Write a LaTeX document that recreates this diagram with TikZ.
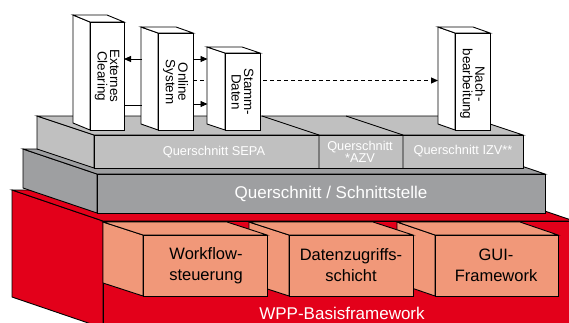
\documentclass[tikz,border=0pt]{standalone}
\usepackage{fontspec}
\setmainfont{Liberation Sans}
\usetikzlibrary{arrows.meta}
\definecolor{wred}{RGB}{227,0,26}
\definecolor{worange}{RGB}{241,152,121}
\definecolor{wgray}{RGB}{158,159,161}
\definecolor{wlgray}{RGB}{192,192,192}
% #1 x front-left, #2 y top, #3 width, #4 height, #5 dx depth, #6 dy depth, #7 fill
\newcommand\wprism[7]{%
  \filldraw[edge,fill=#7] (#1-#5,#2-#6) -- (#1,#2) -- (#1,#2+#4) -- (#1-#5,#2+#4-#6) -- cycle;
  \filldraw[edge,fill=#7] (#1-#5,#2-#6) -- (#1+#3-#5,#2-#6) -- (#1+#3,#2) -- (#1,#2) -- cycle;
  \filldraw[edge,fill=#7] (#1,#2) rectangle (#1+#3,#2+#4);
}
\tikzset{
  edge/.style={draw=black,line width=0.9pt,line join=miter},
  arr/.style={line width=0.9pt,-{Triangle[length=7pt,width=6pt]}},
  plainline/.style={line width=0.9pt},
  dasharr/.style={line width=0.9pt,dash pattern=on 4pt off 3pt,-{Triangle[length=7pt,width=6pt]}},
  vtxt/.style={rotate=-90,align=center,inner sep=0pt,font=\fontsize{13.4}{12.5}\selectfont},
  slabtxt/.style={text=white,align=center,inner sep=0pt,font=\fontsize{12.8}{12}\selectfont},
  bigtxt/.style={text=white,inner sep=0pt,font=\fontsize{17}{20}\selectfont},
  modtxt/.style={align=center,inner sep=0pt,font=\fontsize{16.5}{21}\selectfont},
}
\begin{document}
\begin{tikzpicture}[x=1pt,y=-1pt]
\useasboundingbox (0,0) rectangle (569,322);
\clip (0,0) rectangle (569,322);
% red base
\wprism{103}{221}{471}{107}{91}{31}{wred}
% lower gray slab
\wprism{97}{174}{448}{39}{74}{25}{wgray}
% upper slab
\wprism{94}{135}{429}{33}{57}{19}{wlgray}
\draw[edge] (262,116) -- (319,135) -- (319,168);
\draw[edge] (346,116) -- (403,135) -- (403,168);
% arrow coordinates
\coordinate (osL1) at (142,59);
\coordinate (osL2) at (142,105);
\coordinate (ecR1) at (124,59);
\coordinate (ecR2) at (124,105);
\coordinate (osR1) at (193,59);
\coordinate (osR2) at (193,104);
\coordinate (osR3) at (193,80.5);
\coordinate (sdL1) at (207.5,59);
\coordinate (sdL2) at (207.5,104);
\coordinate (nbL) at (438,80.5);
% top boxes
\wprism{90}{22}{34}{108}{17}{7}{white}
\wprism{158}{33}{35}{97}{17}{6}{white}
\draw[dasharr] (osR3) -- (nbL);
\wprism{225}{53}{35}{77}{18}{6}{white}
\wprism{455}{33}{35}{97}{17}{6}{white}
\draw[arr] (osL1) -- (ecR1);
\draw[plainline] (ecR2) -- (osL2);
\draw[arr] (osR1) -- (sdL1);
\draw[arr] (osR2) -- (sdL2);
% modules (right to left)
\wprism{435}{235}{123}{61}{38}{13}{worange}
\wprism{289}{235}{124}{61}{40}{13}{worange}
\wprism{143}{235}{124}{61}{40}{13}{worange}
% texts
\node[vtxt] (ec) at (107,76) {Externes\\Clearing};
\node[vtxt] (os) at (175.5,82) {Online\\System};
\node[vtxt] (sd) at (242.5,92) {Stamm-\\Daten};
\node[vtxt] (nb) at (472.5,84) {Nach-\\bearbeitung};
\node[slabtxt] (sepa) at (214,152) {Querschnitt SEPA};
\node[slabtxt] (azv) at (360,151.5) {Querschnitt\\*AZV};
\node[slabtxt] (izv) at (463,151) {Querschnitt IZV**};
\node[bigtxt] (qs) at (331,193.5) {Querschnitt / Schnittstelle};
\node[modtxt] (wf) at (206,265.5) {Workflow-\\steuerung};
\node[modtxt] (dz) at (351,265.5) {Datenzugriffs-\\schicht};
\node[modtxt] (gui) at (496,265.5) {GUI-\\Framework};
\node[bigtxt] (wpp) at (342,313) {WPP-Basisframework};
\end{tikzpicture}
\end{document}
